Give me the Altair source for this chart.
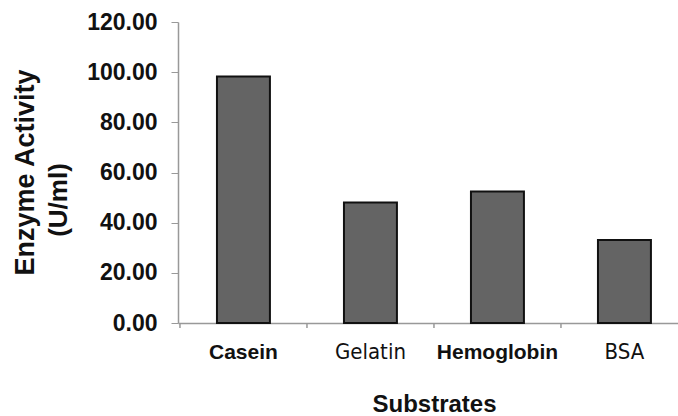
import altair as alt
import pandas as pd

substrates = ["Casein", "Gelatin", "Hemoglobin", "BSA"]
activity = [98.3, 48.0, 52.4, 33.1]
y_ticks = [0, 20, 40, 60, 80, 100, 120]
y_title = "Enzyme Activity"
unit_label = "(U/ml)"
x_title = "Substrates"

df = pd.DataFrame({"Substrate": substrates, "Activity": activity})

W, H = 500, 301

xscale = alt.Scale(domain=substrates, paddingInner=0.583, paddingOuter=0.26, align=0.59)
yscale = alt.Scale(domain=[0, 120], nice=False)

label_font_expr = ("(datum.value == 'Gelatin' || datum.value == 'BSA') ? "
                   "'Liberation Sans Narrow, DejaVu Sans Condensed, DejaVu Sans' : 'Liberation Sans, Arial'")
label_weight_expr = "(datum.value == 'Gelatin' || datum.value == 'BSA') ? 'normal' : 'bold'"
label_size_expr = "(datum.value == 'Gelatin' || datum.value == 'BSA') ? 22 : 21"

bars = alt.Chart(df).mark_bar(
    color="#646464", stroke="#111111", strokeWidth=2
).encode(
    x=alt.X("Substrate:N", scale=xscale, sort=substrates,
            axis=alt.Axis(
                title=x_title, titleFont="Liberation Sans", titleFontSize=24,
                titleFontWeight="bold", titleColor="#111111",
                titleX=256, titleY=88, titleBaseline="alphabetic", titleAnchor="start",
                titleAlign="center",
                labelAngle=0, labelPadding=18, labelBaseline="top",
                labelFont=alt.expr(label_font_expr),
                labelFontWeight=alt.expr(label_weight_expr),
                labelFontSize=alt.expr(label_size_expr),
                labelColor="#111111",
                ticks=False, domainColor="#999999", domainWidth=1.5)),
    y=alt.Y("Activity:Q", scale=yscale,
            axis=alt.Axis(
                values=y_ticks, format=".2f", grid=False,
                title=y_title, titleFont="Liberation Sans", titleFontSize=27,
                titleFontWeight="bold", titleColor="#111111", titleAngle=270,
                titleX=-153, titleY=150, titleBaseline="middle", titleAlign="center",
                labelFont="Liberation Sans", labelFontSize=23, labelFontWeight="bold",
                labelColor="#111111", labelPadding=14,
                tickSize=7, tickColor="#999999", domainColor="#999999", domainWidth=1.5)),
)

xticks = alt.Chart(df).mark_rule(color="#999999", strokeWidth=1.5, xOffset=-37).encode(
    x=alt.X("Substrate:N", scale=xscale, sort=substrates, bandPosition=0),
    y=alt.value(H),
    y2=alt.value(H + 5),
)

unit = alt.Chart(pd.DataFrame({"t": [unit_label]})).mark_text(
    angle=270, font="Liberation Sans", fontSize=26, fontWeight="bold",
    color="#111111", baseline="middle", align="center"
).encode(
    text="t:N",
    x=alt.value(59 - 178),
    y=alt.value(200 - 22),
)

chart = alt.layer(bars, xticks, unit).properties(
    width=W, height=H,
    autosize=alt.AutoSizeParams(type="none"),
    padding={"left": 178, "top": 22, "right": 0, "bottom": 93},
    background="white",
).configure_view(stroke=None)

chart.save("out.html", embed_options={"renderer": "svg", "actions": False})
